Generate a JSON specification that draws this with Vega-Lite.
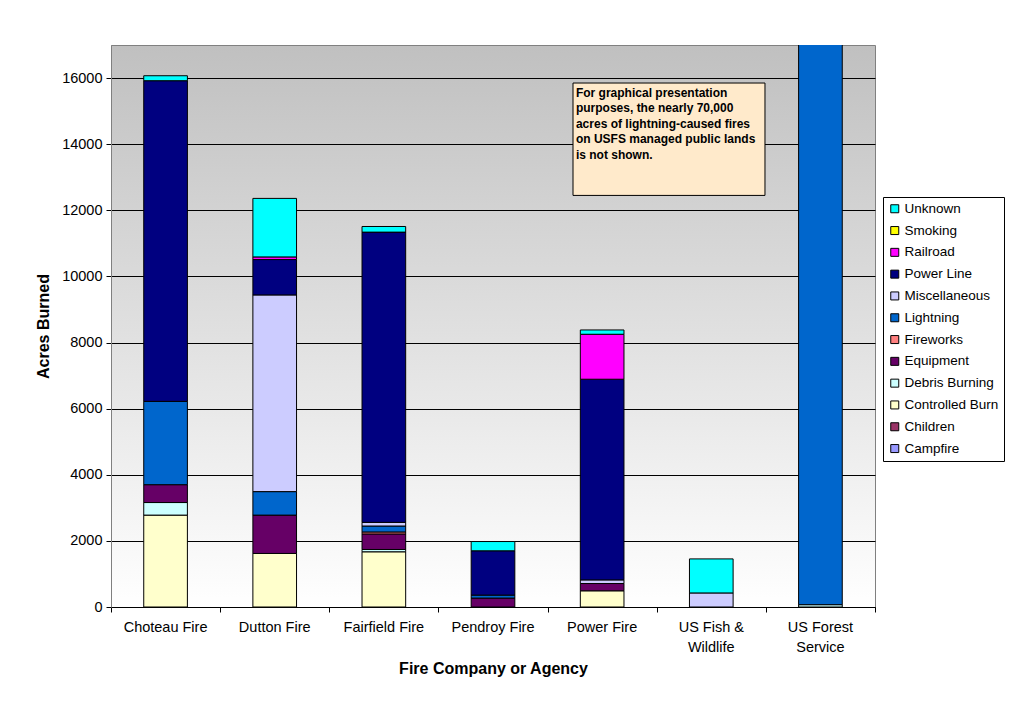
{
  "$schema": "https://vega.github.io/schema/vega-lite/v6.json",
  "width": 764,
  "height": 562,
  "autosize": {"type": "none"},
  "padding": {"left": 111, "top": 45, "right": 138, "bottom": 98},
  "background": "white",
  "config": {
    "font": "Liberation Sans",
    "view": {
      "stroke": "#808080",
      "strokeWidth": 1,
      "fill": {
        "gradient": "linear",
        "x1": 0, "y1": 0, "x2": 0, "y2": 1,
        "stops": [
          {"offset": 0, "color": "#c0c0c0"},
          {"offset": 1, "color": "#ffffff"}
        ]
      }
    },
    "axis": {"labelColor": "black", "titleColor": "black", "labelFont": "Liberation Sans", "titleFont": "Liberation Sans"}
  },
  "resolve": {"scale": {"x": "independent"}},
  "layer": [
    {
      "data": {
        "values": [
          {"agency": "Choteau Fire", "cause": "Controlled Burn", "acres": 2780},
          {"agency": "Choteau Fire", "cause": "Debris Burning", "acres": 380},
          {"agency": "Choteau Fire", "cause": "Equipment", "acres": 540},
          {"agency": "Choteau Fire", "cause": "Lightning", "acres": 2520},
          {"agency": "Choteau Fire", "cause": "Power Line", "acres": 9700},
          {"agency": "Choteau Fire", "cause": "Unknown", "acres": 150},
          {"agency": "Dutton Fire", "cause": "Controlled Burn", "acres": 1620},
          {"agency": "Dutton Fire", "cause": "Equipment", "acres": 1160},
          {"agency": "Dutton Fire", "cause": "Lightning", "acres": 710},
          {"agency": "Dutton Fire", "cause": "Miscellaneous", "acres": 5950},
          {"agency": "Dutton Fire", "cause": "Power Line", "acres": 1070},
          {"agency": "Dutton Fire", "cause": "Railroad", "acres": 80},
          {"agency": "Dutton Fire", "cause": "Unknown", "acres": 1770},
          {"agency": "Fairfield Fire", "cause": "Controlled Burn", "acres": 1670},
          {"agency": "Fairfield Fire", "cause": "Debris Burning", "acres": 70},
          {"agency": "Fairfield Fire", "cause": "Equipment", "acres": 470},
          {"agency": "Fairfield Fire", "cause": "Fireworks", "acres": 60},
          {"agency": "Fairfield Fire", "cause": "Lightning", "acres": 180},
          {"agency": "Fairfield Fire", "cause": "Miscellaneous", "acres": 110},
          {"agency": "Fairfield Fire", "cause": "Power Line", "acres": 8780},
          {"agency": "Fairfield Fire", "cause": "Unknown", "acres": 170},
          {"agency": "Pendroy Fire", "cause": "Equipment", "acres": 270},
          {"agency": "Pendroy Fire", "cause": "Lightning", "acres": 90},
          {"agency": "Pendroy Fire", "cause": "Power Line", "acres": 1340},
          {"agency": "Pendroy Fire", "cause": "Unknown", "acres": 280},
          {"agency": "Power Fire", "cause": "Controlled Burn", "acres": 490},
          {"agency": "Power Fire", "cause": "Equipment", "acres": 220},
          {"agency": "Power Fire", "cause": "Miscellaneous", "acres": 110},
          {"agency": "Power Fire", "cause": "Power Line", "acres": 6070},
          {"agency": "Power Fire", "cause": "Railroad", "acres": 1360},
          {"agency": "Power Fire", "cause": "Unknown", "acres": 130},
          {"agency": "US Fish & Wildlife", "cause": "Miscellaneous", "acres": 425},
          {"agency": "US Fish & Wildlife", "cause": "Unknown", "acres": 1030},
          {"agency": "US Forest Service", "cause": "Debris Burning", "acres": 70},
          {"agency": "US Forest Service", "cause": "Lightning", "acres": 69800}
        ]
      },
      "mark": {"type": "bar", "stroke": "black", "strokeWidth": 1, "clip": true},
      "encoding": {
        "x": {
          "field": "agency",
          "type": "nominal",
          "sort": null,
          "scale": {"paddingInner": 0.6, "paddingOuter": 0.3},
          "axis": {
            "title": "Fire Company or Agency",
            "titleFontSize": 16,
            "titleFontWeight": "bold",
            "titlePadding": 7,
            "labelFontSize": 14.5,
            "labelAngle": 0,
            "labelPadding": 13,
            "labelLineHeight": 20,
            "labelExpr": "datum.label == 'US Fish & Wildlife' ? ['US Fish &', 'Wildlife'] : datum.label == 'US Forest Service' ? ['US Forest', 'Service'] : datum.label",
            "ticks": false,
            "domainColor": "black",
            "grid": false
          }
        },
        "y": {
          "field": "acres",
          "type": "quantitative",
          "stack": "zero",
          "title": "Acres Burned",
          "scale": {"domain": [0, 17000], "nice": false},
          "axis": {
            "titleFontSize": 16,
            "titleFontWeight": "bold",
            "titlePadding": 10,
            "values": [0, 2000, 4000, 6000, 8000, 10000, 12000, 14000, 16000],
            "format": "d",
            "labelFontSize": 14.5,
            "labelPadding": 4,
            "tickSize": 5,
            "tickColor": "black",
            "domainColor": "#808080",
            "grid": true,
            "gridColor": "black",
            "gridOpacity": 1
          }
        },
        "color": {
          "field": "cause",
          "type": "nominal",
          "scale": {
            "domain": ["Unknown", "Smoking", "Railroad", "Power Line", "Miscellaneous", "Lightning", "Fireworks", "Equipment", "Debris Burning", "Controlled Burn", "Children", "Campfire"],
            "range": ["#00ffff", "#ffff00", "#ff00ff", "#000080", "#ccccff", "#0066cc", "#ff8080", "#660066", "#ccffff", "#ffffcc", "#993366", "#9999ff"]
          },
          "legend": {
            "orient": "none",
            "legendX": 772,
            "legendY": 152,
            "title": null,
            "strokeColor": "black",
            "fillColor": "white",
            "padding": 5,
            "symbolType": "square",
            "symbolSize": 64,
            "symbolStrokeColor": "black",
            "symbolStrokeWidth": 1,
            "symbolOpacity": 1,
            "labelFontSize": 13.5,
            "labelColor": "black",
            "labelOffset": 3,
            "rowPadding": 6.8
          }
        },
        "order": {"field": "cause", "sort": "ascending"}
      }
    },
    {
      "data": {"values": [{"left": 4.233, "right": 5.992, "top": 15850, "bottom": 12450}]},
      "mark": {"type": "rect", "fill": "#ffeacb", "stroke": "black", "strokeWidth": 1},
      "encoding": {
        "x": {
          "field": "left",
          "type": "quantitative",
          "scale": {"domain": [0, 7], "nice": false, "zero": false},
          "axis": {
            "orient": "bottom",
            "values": [0, 1, 2, 3, 4, 5, 6, 7],
            "labels": false,
            "domain": false,
            "grid": false,
            "tickSize": 5,
            "tickColor": "black",
            "title": null
          }
        },
        "x2": {"field": "right"},
        "y": {"field": "top", "type": "quantitative", "title": "Acres Burned"},
        "y2": {"field": "bottom"}
      }
    },
    {
      "data": {"values": [{"left": 4.26, "top": 15700, "note": "For graphical presentation\npurposes, the nearly 70,000\nacres of lightning-caused fires\non USFS managed public lands\nis not shown."}]},
      "mark": {"type": "text", "align": "left", "baseline": "top", "fontWeight": "bold", "fontSize": 12, "lineHeight": 15.5, "lineBreak": "\n", "color": "black"},
      "encoding": {
        "x": {"field": "left", "type": "quantitative", "scale": {"domain": [0, 7], "nice": false, "zero": false}, "axis": null},
        "y": {"field": "top", "type": "quantitative", "title": "Acres Burned"},
        "text": {"field": "note"}
      }
    }
  ]
}
